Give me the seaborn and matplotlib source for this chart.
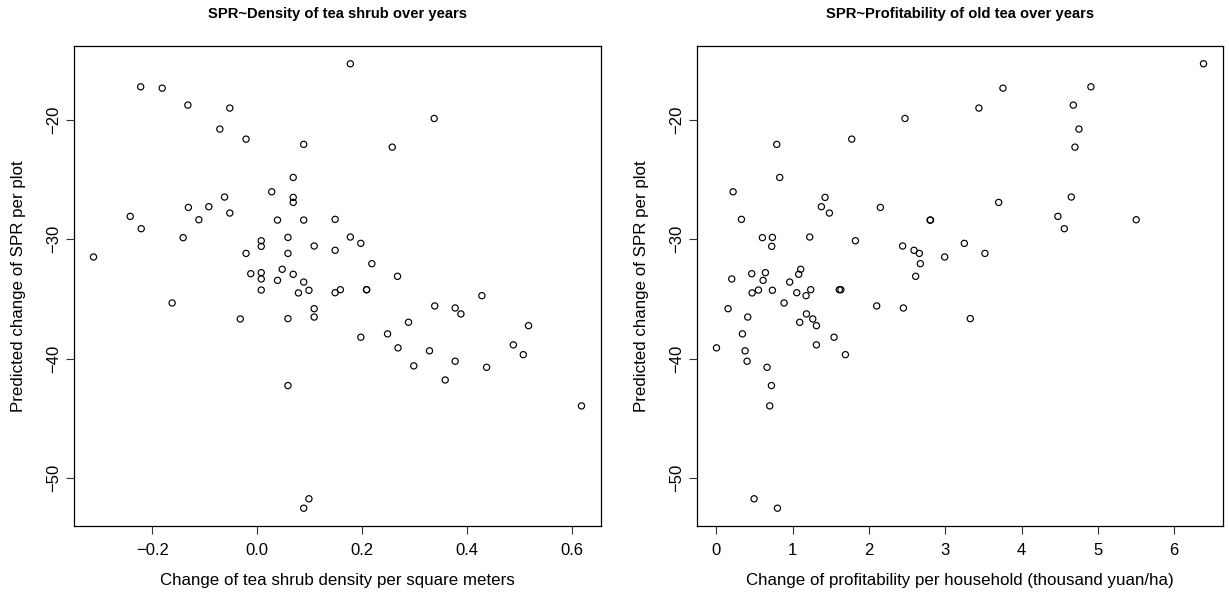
import numpy as np
import pandas as pd
import matplotlib
matplotlib.use("Agg")
import matplotlib.pyplot as plt
import seaborn as sns

# Predicted change of SPR per plot (shared by both panels)
spr_change = [
    -15.31, -17.24, -17.35, -18.77, -19.02, -20.78, -21.62, -22.06, -24.83, -26.03,
    -26.50, -26.92, -26.47, -27.34, -27.28, -27.81, -28.09, -28.37, -28.40, -28.40,
    -28.34, -29.12, -29.87, -30.13, -30.60, -29.85, -30.57, -30.93, -29.82, -30.35,
    -31.49, -31.19, -31.19, -32.89, -32.80, -33.33, -32.52, -32.94, -33.45, -33.59,
    -34.26, -34.50, -34.28, -34.48, -34.23, -19.89, -22.29, -32.05, -33.11, -34.23,
    -34.23, -34.73, -35.34, -36.68, -36.65, -35.82, -36.52, -42.26, -51.74, -52.53,
    -35.59, -35.76, -36.26, -36.96, -37.24, -38.21, -37.93, -39.10, -39.35, -38.85,
    -39.67, -40.22, -40.61, -40.73, -41.79, -43.96,
]

# Change of tea shrub density per square meter
density_change = [
    0.178, -0.222, -0.181, -0.132, -0.052, -0.071, -0.021, 0.089, 0.069, 0.028,
    0.069, 0.069, -0.062, -0.131, -0.092, -0.052, -0.242, -0.111, 0.039, 0.089,
    0.149, -0.221, -0.141, 0.008, 0.008, 0.059, 0.109, 0.149, 0.178, 0.198,
    -0.312, -0.021, 0.059, -0.012, 0.008, 0.008, 0.048, 0.069, 0.039, 0.089,
    0.008, 0.079, 0.099, 0.149, 0.159, 0.338, 0.258, 0.219, 0.268, 0.209,
    0.209, 0.429, -0.162, -0.032, 0.059, 0.109, 0.109, 0.059, 0.099, 0.089,
    0.339, 0.378, 0.389, 0.289, 0.518, 0.198, 0.249, 0.269, 0.329, 0.489,
    0.508, 0.378, 0.299, 0.438, 0.359, 0.619,
]

# Change of profitability per household (thousand yuan/ha); nan = not recorded
profit_change = [
    6.384, 4.908, 3.755, 4.677, 3.440, 4.751, 1.773, 0.790, 0.829, 0.218,
    1.423, 3.699, 4.651, 2.148, 1.375, 1.480, 4.475, 5.502, 2.800, 2.805,
    0.327, 4.559, 0.602, 1.821, 0.724, 0.733, 2.440, 2.589, 1.222, 3.249,
    2.991, 2.659, 3.519, 0.462, 0.641, 0.200, 1.104, 1.078, 0.611, 0.960,
    0.550, 0.467, 0.733, 1.052, 1.235, 2.471, 4.699, 2.672, 2.611, 1.610,
    1.630, 1.174, 0.886, 1.262, 3.327, 0.152, 0.410, 0.720, 0.493, 0.799,
    2.100, 2.450, 1.179, 1.091, 1.310, 1.541, 0.340, 0.000, 0.375, 1.310,
    1.690, 0.401, np.nan, 0.663, np.nan, 0.698,
]

panel_titles = [
    "SPR~Density of tea shrub over years",
    "SPR~Profitability of old tea over years",
]
x_labels = [
    "Change of tea shrub density per square meters",
    "Change of profitability per household (thousand yuan/ha)",
]
y_label = "Predicted change of SPR per plot"
x_ticks = [[-0.2, 0.0, 0.2, 0.4, 0.6], [0, 1, 2, 3, 4, 5, 6]]
y_ticks = [-20, -30, -40, -50]

sns.set_style("ticks")
plt.rcParams["font.family"] = ["Liberation Sans", "DejaVu Sans"]
plt.rcParams.update({
    "text.color": "black",
    "axes.labelcolor": "black",
    "xtick.color": "black",
    "ytick.color": "black",
    "xtick.labelcolor": "black",
    "ytick.labelcolor": "black",
})

W, H = 1229, 594
fig = plt.figure(figsize=(W / 100, H / 100), dpi=100)

# axes boxes in pixel terms: (left, top, right, bottom)
boxes = [(74, 46, 601, 526), (697, 46, 1223, 526)]

frame = pd.DataFrame({
    "spr": spr_change,
    "density": density_change,
    "profit": profit_change,
})
x_cols = ["density", "profit"]


def r_range(vals):
    vals = np.asarray(vals, dtype=float)
    vals = vals[~np.isnan(vals)]
    lo, hi = vals.min(), vals.max()
    pad = (hi - lo) * 0.04
    return lo - pad, hi + pad


def fmt(v, decimals):
    s = f"{v:.{decimals}f}"
    return s.replace("-", "\u2212")


for i, (l, t, r, b) in enumerate(boxes):
    ax = fig.add_axes([l / W, (H - b) / H, (r - l) / W, (b - t) / H])
    sub = frame[["spr", x_cols[i]]].dropna()
    sns.scatterplot(
        data=sub, x=x_cols[i], y="spr", ax=ax,
        marker="o", s=20, facecolor="none", edgecolor="black",
        linewidth=0.85,
    )
    ax.set_xlim(*r_range(frame[x_cols[i]]))
    ax.set_ylim(*r_range(frame["spr"]))
    ax.set_xticks(x_ticks[i])
    ax.set_yticks(y_ticks)
    ax.set_xticklabels([fmt(v, 1 if i == 0 else 0) for v in x_ticks[i]])
    ax.set_yticklabels([fmt(v, 0) for v in y_ticks])
    for side in ["left", "right", "top", "bottom"]:
        ax.spines[side].set_visible(True)
        ax.spines[side].set_color("black")
        ax.spines[side].set_linewidth(0.9)
    ax.tick_params(direction="out", length=5.5, width=0.8, color="#333333",
                   labelsize=12, pad=7)
    ax.tick_params(axis="y", labelrotation=90, pad=4)
    for lbl in ax.get_yticklabels():
        lbl.set_va("center")
    ax.set_xlabel(x_labels[i], fontsize=12.2)
    ax.set_ylabel(y_label, fontsize=12.2)
    ax.xaxis.set_label_coords(0.5, -47 / (b - t))
    ax.yaxis.set_label_coords(-48 / (r - l), 0.5)
    ax.set_title(panel_titles[i], fontsize=10.6, fontweight="bold", pad=20)

fig.savefig("out.png", dpi=100)
